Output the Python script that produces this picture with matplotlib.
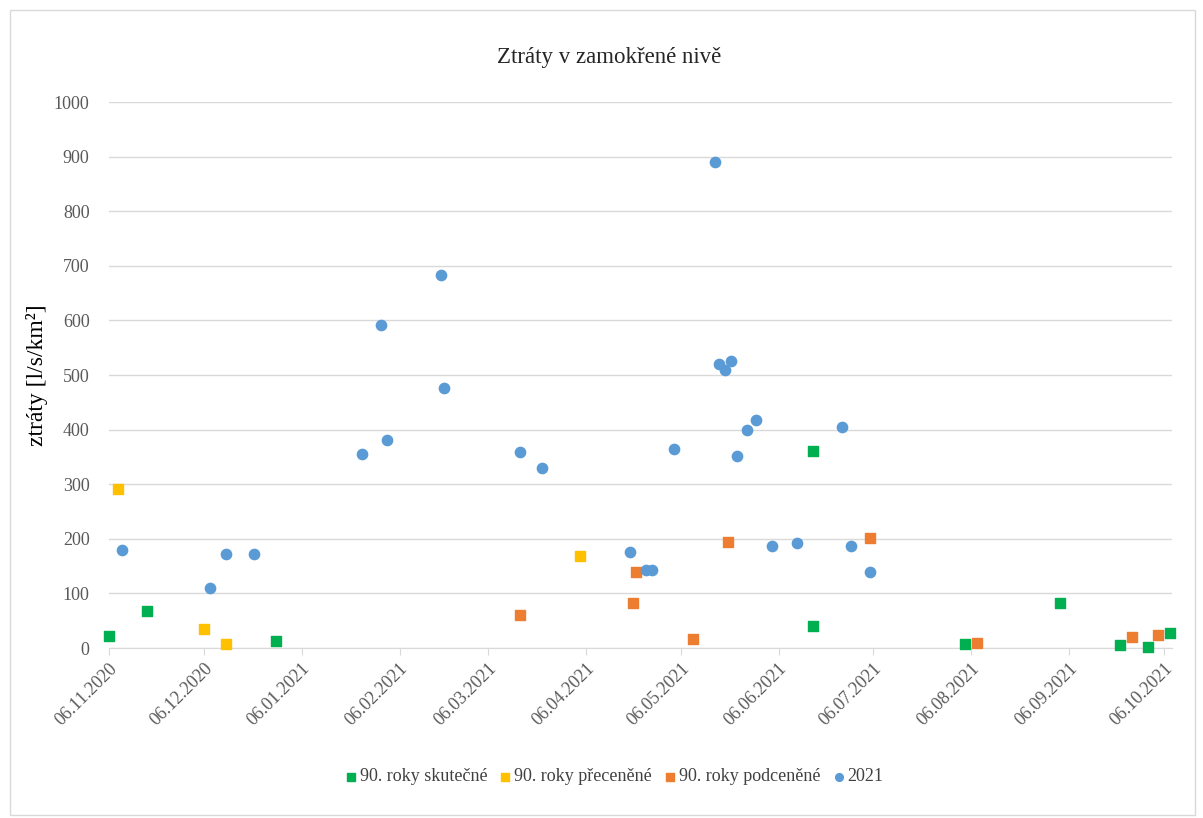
import numpy as np
import pandas as pd
import matplotlib
matplotlib.use("Agg")
import matplotlib.pyplot as plt
import matplotlib.dates as mdates
from matplotlib.patches import Rectangle

# data
skutecne_dates = ["2020-11-06", "2020-11-18", "2020-12-29", "2021-06-17", "2021-06-17",
                  "2021-08-04", "2021-09-03", "2021-09-22", "2021-10-01", "2021-10-08"]
skutecne_vals = [22, 68, 13, 361, 41, 7, 83, 6, 1, 28]

precenene_dates = ["2020-11-09", "2020-12-06", "2020-12-13", "2021-04-04"]
precenene_vals = [291, 35, 7, 168]

podcenene_dates = ["2021-03-16", "2021-04-21", "2021-04-22", "2021-05-10", "2021-05-21",
                   "2021-07-05", "2021-08-08", "2021-09-26", "2021-10-04"]
podcenene_vals = [60, 83, 139, 16, 194, 201, 9, 20, 24]

y2021_dates = ["2020-11-10", "2020-12-08", "2020-12-13", "2020-12-22", "2021-01-25",
               "2021-01-31", "2021-02-02", "2021-02-19", "2021-02-20", "2021-03-16",
               "2021-03-23", "2021-04-20", "2021-04-25", "2021-04-27", "2021-05-04",
               "2021-05-17", "2021-05-18", "2021-05-20", "2021-05-22", "2021-05-24",
               "2021-05-27", "2021-05-30", "2021-06-04", "2021-06-12", "2021-06-26",
               "2021-06-29", "2021-07-05"]
y2021_vals = [179, 110, 173, 173, 355, 592, 381, 683, 477, 359, 330, 176, 142, 142, 364,
              891, 521, 509, 526, 352, 400, 418, 187, 193, 405, 187, 139]

plt.rcParams['font.family'] = ['Liberation Serif', 'DejaVu Serif']

fig = plt.figure(figsize=(12.03, 8.18), dpi=100)
ax = fig.add_axes([0.0906, 0.2078, 0.8834, 0.6675])

# outer frame of the chart area
fig.patches.append(Rectangle((10 / 1203, 3 / 818), 1185 / 1203, 805 / 818,
                             transform=fig.transFigure, fill=False,
                             edgecolor='#d9d9d9', linewidth=1))

ax.scatter(pd.to_datetime(skutecne_dates), skutecne_vals, marker='s', s=50,
           color='#00B050', label='90. roky skutečné', zorder=3, clip_on=False)
ax.scatter(pd.to_datetime(precenene_dates), precenene_vals, marker='s', s=50,
           color='#FFC000', label='90. roky přeceněné', zorder=3, clip_on=False)
ax.scatter(pd.to_datetime(podcenene_dates), podcenene_vals, marker='s', s=50,
           color='#ED7D31', label='90. roky podceněné', zorder=3, clip_on=False)
ax.scatter(pd.to_datetime(y2021_dates), y2021_vals, marker='o', s=55,
           color='#5B9BD5', label='2021', zorder=3, clip_on=False)

ax.set_ylim(0, 1000)
ax.set_yticks(np.arange(0, 1001, 100))
ax.set_xlim(pd.Timestamp("2020-11-06"), pd.Timestamp("2021-10-08 12:00"))
ax.xaxis.set_major_locator(mdates.MonthLocator(bymonthday=6))
ax.xaxis.set_major_formatter(mdates.DateFormatter('%d.%m.%Y'))

ax.grid(axis='y', color='#d9d9d9', linewidth=1)
ax.set_axisbelow(True)
for side in ['top', 'right', 'left']:
    ax.spines[side].set_visible(False)
ax.spines['bottom'].set_color('#d9d9d9')
ax.tick_params(axis='y', length=0, labelsize=13, labelcolor='#595959', pad=14)
ax.tick_params(axis='x', length=5, color='#d9d9d9', labelsize=13, labelcolor='#595959')
plt.setp(ax.get_xticklabels(), rotation=45, ha='right', rotation_mode='anchor')

# title is centred over the whole chart area, not the plot area
fig.text(609 / 1203, 1 - 58 / 818, 'Ztráty v zamokřené nivě', fontsize=16.5,
         color='#262626', ha='center', va='center')
ax.set_ylabel('ztráty [l/s/km²]', fontsize=17, color='black', labelpad=4)

leg = fig.legend(loc='lower center', bbox_to_anchor=(0.51, 0.02), ncol=4, frameon=False,
                 fontsize=13, handletextpad=0.1, handlelength=0.8, columnspacing=0.6,
                 markerscale=0.75)
for t in leg.get_texts():
    t.set_color('#404040')

fig.savefig('out.png', dpi=100)
